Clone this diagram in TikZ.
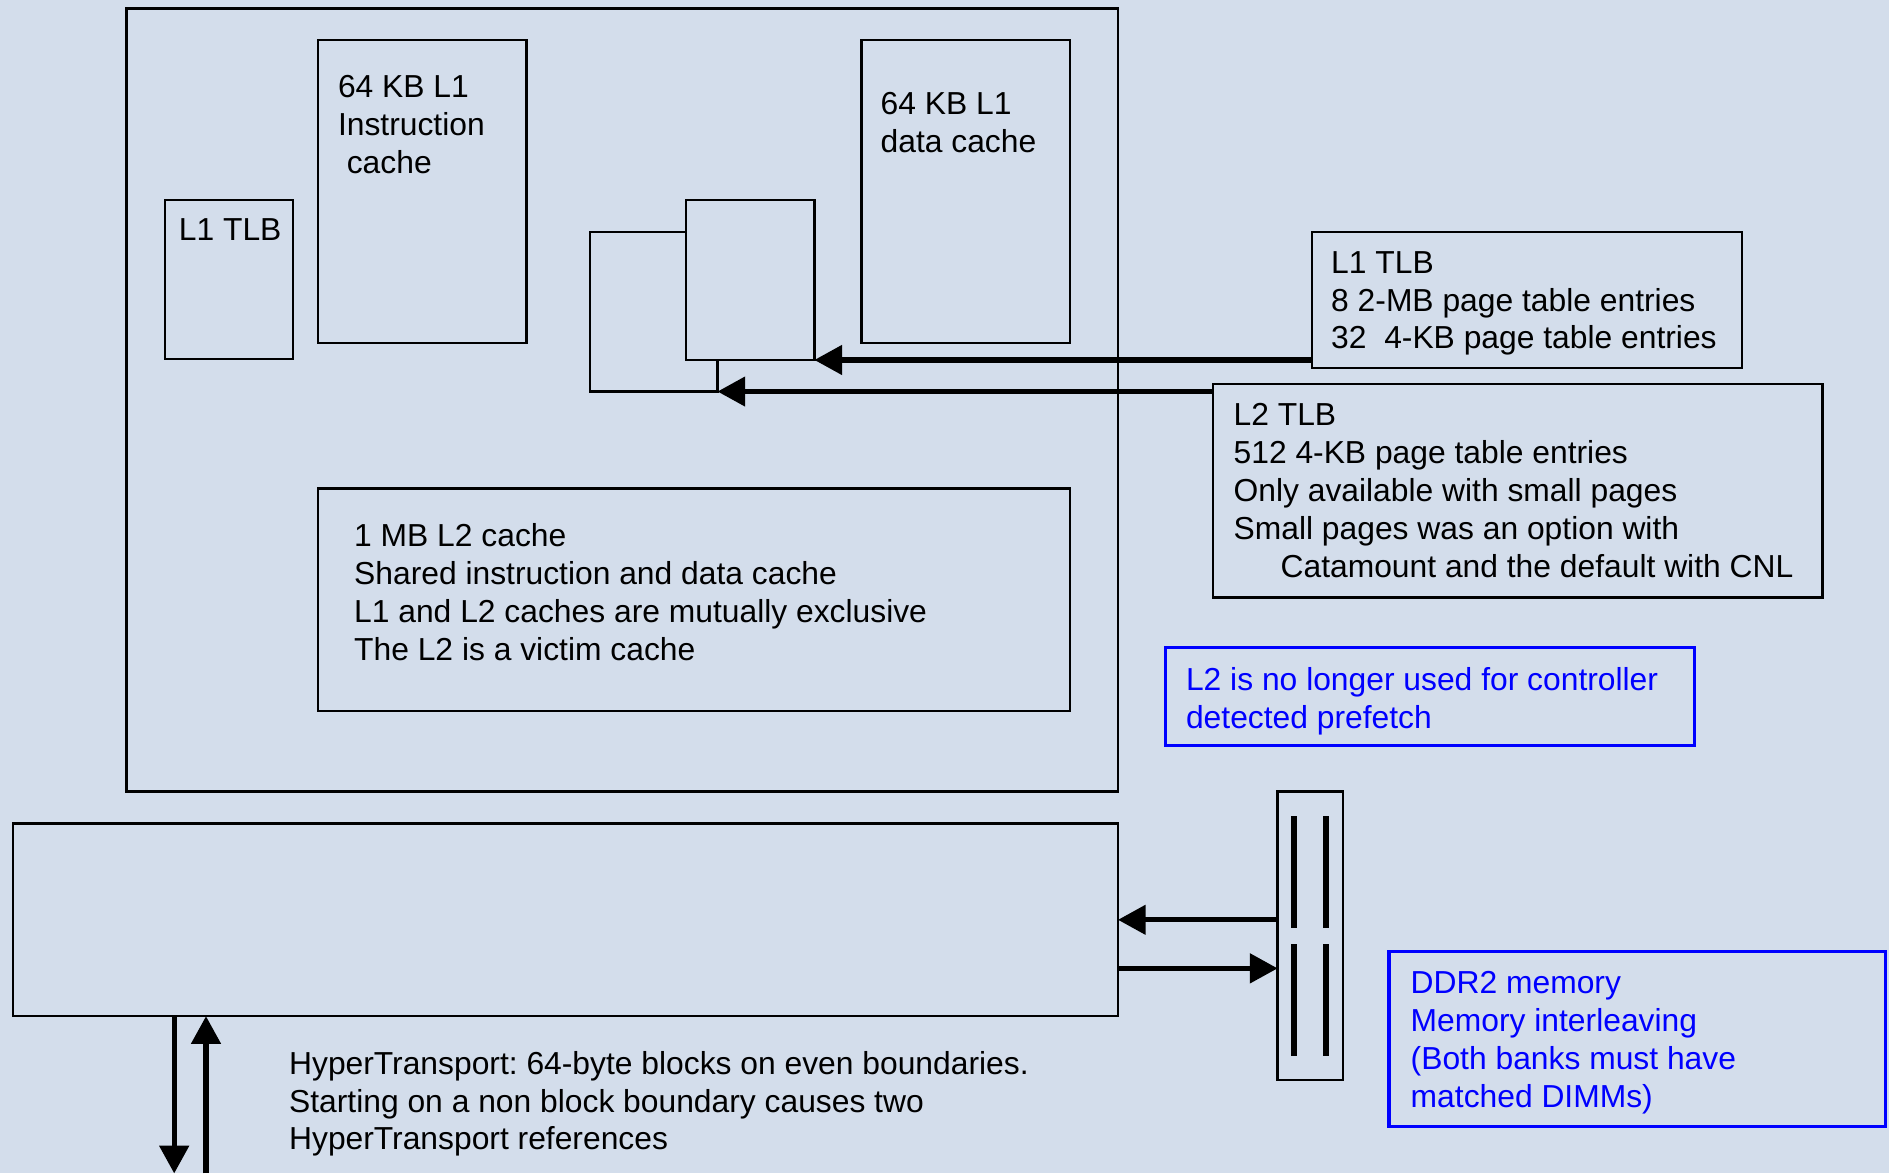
\documentclass[tikz,border=0pt]{standalone}
\usepackage{fontspec}
\setmainfont{Liberation Sans}
\frenchspacing
\usetikzlibrary{arrows.meta,calc}
\definecolor{slide}{RGB}{211,221,235}
\definecolor{noteblue}{RGB}{0,0,255}
\begin{document}
\begin{tikzpicture}[x=1pt,y=-1pt,
  box/.style={draw=black, line width=1.9pt, fill=slide, anchor=north west,
    inner sep=0pt, outer sep=0pt},
  bluebox/.style={draw=noteblue, line width=2.6pt, fill=slide, anchor=north west,
    inner sep=0pt, outer sep=0pt},
  txt/.style={font=\fontsize{26.4}{31.5}\selectfont, align=left, inner sep=0pt,
    outer sep=0pt, anchor=north west, text=black},
  bluetxt/.style={txt, text=noteblue},
  arr/.style={line width=4.2pt, -{Triangle[length=23pt,width=24pt]}},
  bar/.style={line width=5pt},
]
% page background
\fill[slide] (0,0) rectangle (1568,974);
\useasboundingbox (0,0) rectangle (1568,974);

% processor core
\node[box, minimum width=823pt, minimum height=650pt] (cpu) at (105,7) {};
\node[box, minimum width=106pt, minimum height=132pt] (itlb) at (137,166) {};
\node[txt] (itlbT) at (148.5,181.6) {L1 TLB};
\node[box, minimum width=173pt, minimum height=252pt] (icache) at (264,33) {};
\node[txt] (icacheT) at (280.6,62.4) {64 KB L1\\Instruction\\\hspace*{7.3pt}cache};
\node[box, minimum width=173pt, minimum height=252pt] (dcache) at (715,33) {};
\node[txt] (dcacheT) at (731,76.5) {64 KB L1\\data cache};

% the two data TLB blocks, the front one hiding part of the rear one
\node[box, minimum width=105.8pt, minimum height=132.7pt] (tlbB) at (489.8,192.3) {};
\node[box, minimum width=106.5pt, minimum height=132.8pt] (tlbA) at (569.5,166) {};

\node[box, minimum width=624pt, minimum height=185pt] (l2cache) at (264,405.4) {};
\node[txt] (l2cacheT) at (294,434.3) {1 MB L2 cache\\Shared instruction and data cache\\
  L1 and L2 caches are mutually exclusive\\The L2 is a victim cache};

% TLB descriptions
\node[box, minimum width=357pt, minimum height=113.4pt] (l1tlb) at (1089,192.3) {};
\node[txt] (l1tlbT) at (1105,208.5) {L1 TLB\\8 2-MB page table entries\\32\ \ 4-KB page table entries};
\node[box, minimum width=505.8pt, minimum height=177.2pt] (l2tlb) at (1007,318.8) {};
\node[txt] (l2tlbT) at (1024,334.8) {L2 TLB\\512 4-KB page table entries\\Only available with small pages\\
  Small pages was an option with\\\hspace*{39pt}Catamount and the default with CNL};

\draw[arr] (l1tlb.south west |- tlbA.south east) -- (tlbA.south east);
\draw[arr] (l2tlb.west |- tlbB.south east) -- (tlbB.south east);

% prefetch note
\node[bluebox, minimum width=439pt, minimum height=81pt] (note) at (967.3,537.6) {};
\node[bluetxt] (noteT) at (984.5,553.8) {L2 is no longer used for controller\\detected prefetch};

% memory controller / HyperTransport block
\node[box, minimum width=917pt, minimum height=160pt] (hub) at (11,683.5) {};
\node[box, minimum width=54pt, minimum height=239.5pt] (dimm) at (1060.5,657) {};
\draw[bar] (1074,677.4) -- (1074,770);
\draw[bar] (1100.7,677.4) -- (1100.7,770);
\draw[bar] (1074,783.6) -- (1074,876.6);
\draw[bar] (1100.7,783.6) -- (1100.7,876.6);

\coordinate (hubout) at ($(hub.east)+(0,40.3)$);
\draw[arr] (dimm.west |- hub.east) -- (hub.east);
\draw[arr] (hubout) -- (dimm.west |- hubout);

\coordinate (htdn) at (144.6,974);
\coordinate (htup) at (171,974);
\draw[arr] (hub.south -| htdn) -- (htdn);
\draw[arr] (htup) -- (hub.south -| htup);

\node[txt] (htT) at (240,872.4) {HyperTransport: 64-byte blocks on even boundaries.\\
  Starting on a non block boundary causes two\\HyperTransport references};

% memory note
\node[bluebox, minimum width=412pt, minimum height=145pt] (ddr) at (1153,790) {};
\node[bluetxt] (ddrT) at (1171,806) {DDR2 memory\\Memory interleaving\\(Both banks must have\\matched DIMMs)};
\end{tikzpicture}
\end{document}
